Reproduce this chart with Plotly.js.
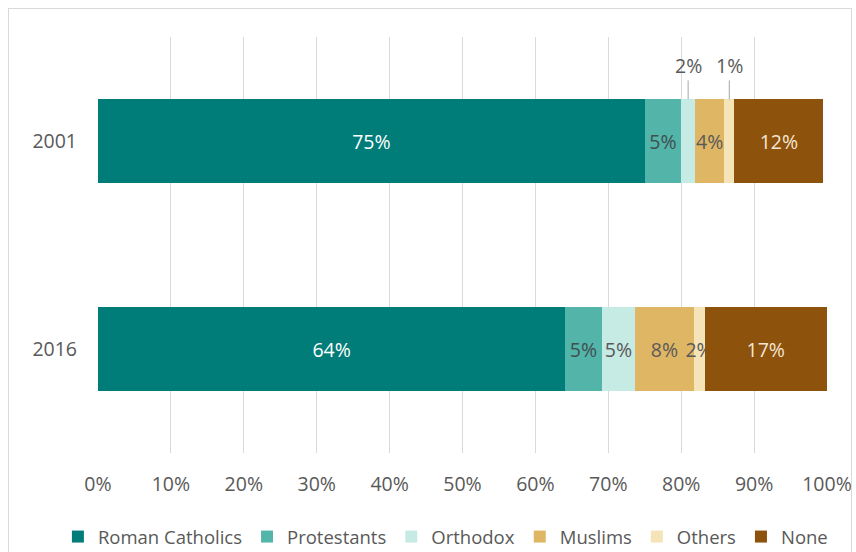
<!DOCTYPE html>
<html>
<head>
<meta charset="utf-8">
<script src="https://cdn.plot.ly/plotly-3.0.1.min.js"></script>
<style>
  html, body { margin: 0; padding: 0; background: #ffffff; }
  #wrap { position: relative; width: 856px; height: 552px; overflow: hidden; }
  #chart { position: absolute; left: 0; top: 0; width: 856px; height: 552px; }
  #frame { position: absolute; left: 8px; top: 8px; width: 842px; height: 560px; border: 1px solid #d9d9d9; pointer-events: none; }
</style>
</head>
<body>
<div id="wrap">
  <div id="chart"></div>
  <div id="frame"></div>
</div>
<script>
// ---- data ----
const years = ['2001', '2016'];
const seriesNames = ['Roman Catholics', 'Protestants', 'Orthodox', 'Muslims', 'Others', 'None'];
const romanCatholics = [75.0, 64.1];
const protestants    = [5.0, 5.0];
const orthodox       = [1.9, 4.6];
const muslims        = [4.0, 8.0];
const others         = [1.4, 1.5];
const none           = [12.2, 16.8];
const xTicks = [0, 10, 20, 30, 40, 50, 60, 70, 80, 90, 100];
const xTickLabels = ['0%', '10%', '20%', '30%', '40%', '50%', '60%', '70%', '80%', '90%', '100%'];

// ---- styles ----
const colors = ['#007C79', '#53B4AA', '#C6EAE4', '#DFB664', '#F6E4B9', '#8D520B'];
const labelColors = ['#ffffff', '#3f4f4f', '#595959', '#595959', '#595959', '#f4e6d4'];
const FONT = '"Open Sans", Lato, sans-serif';
const FS = 19.5;
const values = [romanCatholics, protestants, orthodox, muslims, others, none];

// labels: narrow 2001 segments (Orthodox, Others) are labeled above with leader lines
const callout = { 2: [0], 4: [0] };
const fmt = v => Math.round(v) + '%';

const traces = values.map((vals, i) => ({
  type: 'bar',
  orientation: 'h',
  name: seriesNames[i],
  y: years,
  x: vals,
  width: 0.4,
  marker: { color: colors[i], line: { width: 0 } },
  text: vals.map((v, j) => (callout[i] && callout[i].includes(j)) ? '' : fmt(v)),
  textposition: 'inside',
  insidetextanchor: 'middle',
  textangle: 0,
  constraintext: 'none',
  textfont: { family: FONT, size: FS, color: labelColors[i] },
  hoverinfo: 'name+x'
}));

// callout annotations computed from cumulative data
const annotations = [];
Object.keys(callout).forEach(k => {
  const i = Number(k);
  callout[i].forEach(j => {
    let start = 0;
    for (let s = 0; s < i; s++) start += values[s][j];
    const mid = start + values[i][j] / 2;
    annotations.push({
      x: mid, y: j - 0.2, xref: 'x', yref: 'y',
      text: fmt(values[i][j]),
      showarrow: true, arrowhead: 0, arrowwidth: 1, arrowcolor: '#a6a6a6',
      ax: 0, ay: -34, standoff: 0,
      font: { family: FONT, size: FS, color: '#595959' }
    });
  });
});

const layout = {
  width: 856, height: 552,
  margin: { l: 98, r: 29, t: 37, b: 99, pad: 0, autoexpand: false },
  paper_bgcolor: 'rgba(0,0,0,0)',
  plot_bgcolor: 'rgba(0,0,0,0)',
  barmode: 'stack',
  bargap: 0.6,
  showlegend: true,
  font: { family: FONT, size: FS, color: '#595959' },
  xaxis: {
    range: [0, 100],
    tickvals: xTicks, ticktext: xTickLabels,
    showgrid: true, gridcolor: '#d9d9d9', gridwidth: 1,
    zeroline: false, showline: false, ticks: '',
    ticklabelstandoff: 17,
    tickfont: { family: FONT, size: FS, color: '#595959' },
    fixedrange: true
  },
  yaxis: {
    type: 'category',
    categoryorder: 'array', categoryarray: years,
    autorange: 'reversed',
    showgrid: false, zeroline: false, showline: false, ticks: '',
    ticklabelstandoff: 20,
    tickfont: { family: FONT, size: FS, color: '#595959' },
    fixedrange: true
  },
  legend: {
    orientation: 'h',
    x: -0.055, xanchor: 'left', xref: 'paper',
    y: -0.202, yanchor: 'middle', yref: 'paper',
    traceorder: 'normal',
    font: { family: FONT, size: 18.5, color: '#595959' },
    itemwidth: 30,
    bgcolor: 'rgba(0,0,0,0)'
  },
  annotations: annotations
};

Plotly.newPlot('chart', traces, layout, { displayModeBar: false, staticPlot: true });
</script>
</body>
</html>
